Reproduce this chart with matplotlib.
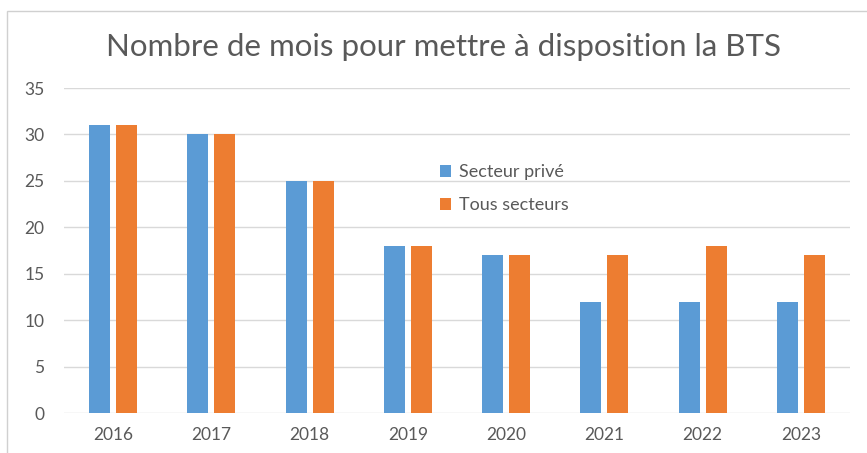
import numpy as np
import matplotlib.pyplot as plt
from matplotlib.patches import Rectangle

annees = ["2016", "2017", "2018", "2019", "2020", "2021", "2022", "2023"]
secteur_prive = [31, 30, 25, 18, 17, 12, 12, 12]
tous_secteurs = [31, 30, 25, 18, 17, 17, 18, 17]

bleu = "#5B9BD5"
orange = "#ED7D31"
gris = "#595959"

plt.rcParams['font.family'] = ['Lato', 'DejaVu Sans']

fig = plt.figure(figsize=(8.67, 4.53), dpi=100)
# cadre du graphique
fig.patches.append(Rectangle((7 / 867, -0.1), 1.2, 1 - 11 / 453 + 0.1,
                             transform=fig.transFigure, fill=False,
                             edgecolor="#d0d0d0", linewidth=1))

ax = fig.add_axes([64 / 867, 1 - 413 / 453, 786 / 867, 325 / 453])
x = np.arange(len(annees))
w = 0.215
ax.bar(x - 0.138, secteur_prive, w, color=bleu, label="Secteur privé")
ax.bar(x + 0.138, tous_secteurs, w, color=orange, label="Tous secteurs")

ax.set_xlim(-0.5, len(annees) - 0.5)
ax.set_ylim(0, 35)
ax.set_yticks(range(0, 36, 5))
ax.set_xticks(x)
ax.set_xticklabels(annees)
ax.tick_params(length=0, labelsize=12.5, colors=gris)
ax.tick_params(axis="y", pad=14)
ax.tick_params(axis="x", pad=10)
ax.grid(axis="y", color="#d9d9d9", linewidth=1)
ax.set_axisbelow(True)
for s in ax.spines.values():
    s.set_visible(False)

fig.text(0.512, 1 - 47 / 453, "Nombre de mois pour mettre à disposition la BTS",
         ha="center", va="center", fontsize=22.5, color=gris)

ax.legend(loc="upper left", bbox_to_anchor=(424 / 867, 1 - 148 / 453),
          bbox_transform=fig.transFigure, frameon=False, fontsize=13,
          labelcolor=gris, handlelength=0.6, handleheight=0.6,
          handletextpad=0.45, labelspacing=0.95)

fig.savefig("out.png", dpi=100)
